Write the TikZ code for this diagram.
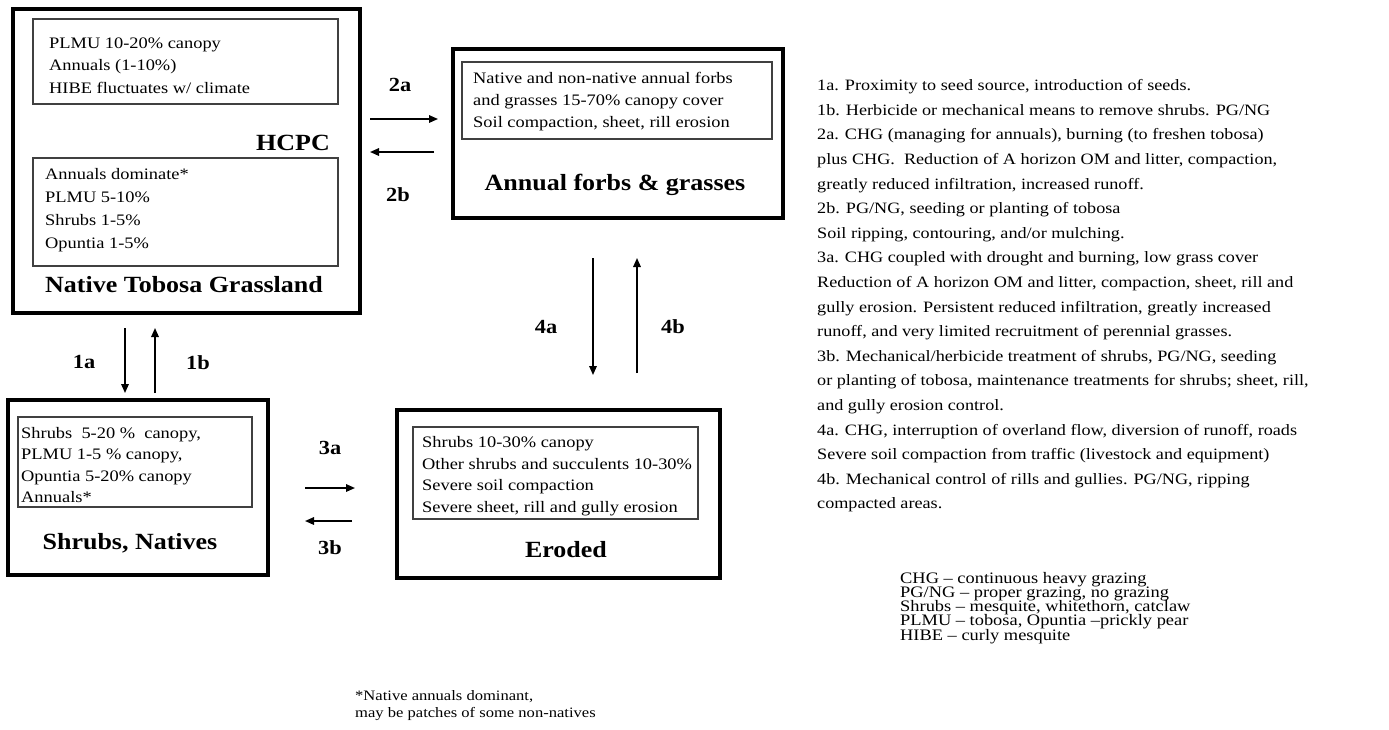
\documentclass[tikz,border=0pt]{standalone}
\usepackage{fontspec}
\usetikzlibrary{arrows.meta}
\newfontfamily\txtfont[FakeStretch=1.15]{Liberation Serif}
\newfontfamily\lblfont[FakeStretch=1.12]{Liberation Serif}
\newcommand\tightls{\lineskiplimit=-20pt\relax}
\begin{document}
\begin{tikzpicture}[x=1pt,y=-1pt,
  outerbox/.style={draw=black, line width=4pt, rectangle, inner sep=0pt, outer sep=0pt, anchor=north west},
  innerbox/.style={draw=black!75, line width=1.3pt, rectangle, inner sep=0pt, outer sep=0pt, anchor=north west},
  boxtext/.style={anchor=north west, inner sep=0pt, align=left},
  statelabel/.style={font=\lblfont\bfseries\fontsize{23.2}{26}\selectfont, inner sep=0pt},
  arrlabel/.style={font=\lblfont\bfseries\fontsize{20}{24}\selectfont, inner sep=0pt},
  arr/.style={line width=1.6pt, -{Triangle[length=9pt,width=7.5pt]}},
]
\fill[white] (0,0) rectangle (1389,729);
\useasboundingbox (0,0) rectangle (1389,729);

% ---------- Native Tobosa Grassland ----------
\node[outerbox, minimum width=347pt, minimum height=304pt] (nat) at (13,9) {};
\node[innerbox, minimum width=305pt, minimum height=85pt] (natA) at (33,19) {};
\node[boxtext, font={\txtfont\fontsize{16}{22.5}\selectfont\tightls}] (natAt) at (49,37.2)
  {PLMU 10-20\% canopy\\Annuals (1-10\%)\\HIBE fluctuates w/ climate};
\node[statelabel] (hcpc) at (293,143) {HCPC};
\node[innerbox, minimum width=305pt, minimum height=108pt] (natB) at (33,158) {};
\node[boxtext, font={\txtfont\fontsize{16}{23}\selectfont\tightls}] (natBt) at (45,168.2)
  {Annuals dominate*\\PLMU 5-10\%\\Shrubs 1-5\%\\Opuntia 1-5\%};
\node[statelabel] (natl) at (184,285) {Native Tobosa Grassland};

% ---------- Annual forbs & grasses ----------
\node[outerbox, minimum width=330pt, minimum height=169pt] (ann) at (453,49) {};
\node[innerbox, minimum width=310pt, minimum height=77pt] (annA) at (462,62) {};
\node[boxtext, font={\txtfont\fontsize{16}{22}\selectfont\tightls}] (annAt) at (473,72.2)
  {Native and non-native annual forbs\\and grasses 15-70\% canopy cover\\Soil compaction, sheet, rill erosion};
\node[statelabel] (annl) at (615,185) {Annual forbs \& grasses};

% ---------- Shrubs, Natives ----------
\node[outerbox, minimum width=260pt, minimum height=175pt] (shr) at (8,400) {};
\node[innerbox, minimum width=234pt, minimum height=90pt] (shrA) at (18,417) {};
\node[boxtext, font={\txtfont\fontsize{16}{21.3}\selectfont\tightls}] (shrAt) at (21,427.2)
  {Shrubs~ 5-20 \%~ canopy,\\PLMU 1-5 \% canopy,\\Opuntia 5-20\% canopy\\Annuals*};
\node[statelabel] (shrl) at (130,543) {Shrubs, Natives};

% ---------- Eroded ----------
\node[outerbox, minimum width=323pt, minimum height=168pt] (ero) at (397,410) {};
\node[innerbox, minimum width=285pt, minimum height=92pt] (eroA) at (413,427) {};
\node[boxtext, font={\txtfont\fontsize{16}{21.7}\selectfont\tightls}] (eroAt) at (422,436.2)
  {Shrubs 10-30\% canopy\\Other shrubs and succulents 10-30\%\\Severe soil compaction\\Severe sheet, rill and gully erosion};
\node[statelabel] (erol) at (566,550) {Eroded};

% ---------- transitions ----------
\draw[arr, shorten <=15pt, shorten >=7pt] (nat.south -| 125,0) -- (shr.north -| 125,0);
\draw[arr, shorten <=7pt, shorten >=15pt] (shr.north -| 155,0) -- (nat.south -| 155,0);
\node[arrlabel] (l1a) at (84,362) {1a};
\node[arrlabel] (l1b) at (198,363) {1b};

\draw[arr, shorten <=10pt, shorten >=15pt] (nat.east |- 0,119) -- (ann.west |- 0,119);
\draw[arr, shorten <=19pt, shorten >=10pt] (ann.west |- 0,152) -- (nat.east |- 0,152);
\node[arrlabel] (l2a) at (400,85) {2a};
\node[arrlabel] (l2b) at (398,195) {2b};

\draw[arr, shorten <=37pt, shorten >=42pt] (shr.east |- 0,488) -- (ero.west |- 0,488);
\draw[arr, shorten <=45pt, shorten >=37pt] (ero.west |- 0,521) -- (shr.east |- 0,521);
\node[arrlabel] (l3a) at (330,448) {3a};
\node[arrlabel] (l3b) at (330,548) {3b};

\draw[arr, shorten <=40pt, shorten >=35pt] (ann.south -| 593,0) -- (ero.north -| 593,0);
\draw[arr, shorten <=37pt, shorten >=40pt] (ero.north -| 637,0) -- (ann.south -| 637,0);
\node[arrlabel] (l4a) at (546,327) {4a};
\node[arrlabel] (l4b) at (673,327) {4b};

% ---------- notes ----------
\node[boxtext, font={\txtfont\fontsize{15.8}{24.6}\selectfont\tightls}] (notes) at (817,79.3)
  {1a. Proximity to seed source, introduction of seeds.\\
   1b. Herbicide or mechanical means to remove shrubs. PG/NG\\
   2a. CHG (managing for annuals), burning (to freshen tobosa)\\
   plus CHG.~ Reduction of A horizon OM and litter, compaction,\\
   greatly reduced infiltration, increased runoff.\\
   2b. PG/NG, seeding or planting of tobosa\\
   Soil ripping, contouring, and/or mulching.\\
   3a. CHG coupled with drought and burning, low grass cover\\
   Reduction of A horizon OM and litter, compaction, sheet, rill and\\
   gully erosion. Persistent reduced infiltration, greatly increased\\
   runoff, and very limited recruitment of perennial grasses.\\
   3b. Mechanical/herbicide treatment of shrubs, PG/NG, seeding\\
   or planting of tobosa, maintenance treatments for shrubs; sheet, rill,\\
   and gully erosion control.\\
   4a. CHG, interruption of overland flow, diversion of runoff, roads\\
   Severe soil compaction from traffic (livestock and equipment)\\
   4b. Mechanical control of rills and gullies. PG/NG, ripping\\
   compacted areas.};

\node[boxtext, font={\txtfont\fontsize{16}{14.2}\selectfont\tightls}] (legend) at (900,572)
  {CHG – continuous heavy grazing\\
   PG/NG – proper grazing, no grazing\\
   Shrubs – mesquite, whitethorn, catclaw\\
   PLMU – tobosa, Opuntia –prickly pear\\
   HIBE – curly mesquite};

\node[boxtext, font={\txtfont\fontsize{14.4}{17}\selectfont\tightls}] (foot) at (355,690)
  {*Native annuals dominant,\\may be patches of some non-natives};
\end{tikzpicture}
\end{document}
